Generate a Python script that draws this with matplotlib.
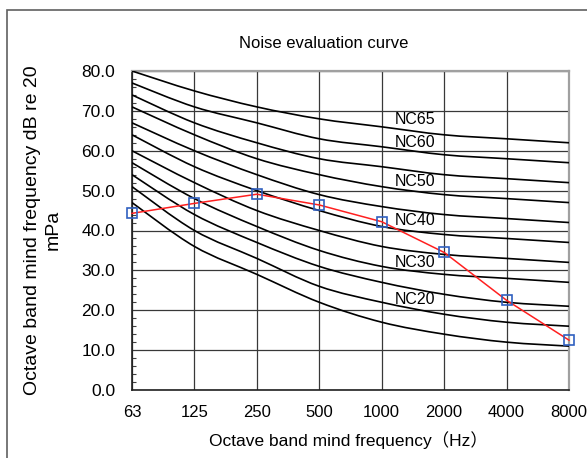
import numpy as np
import matplotlib
matplotlib.use("Agg")
import matplotlib.pyplot as plt
from matplotlib.path import Path
from matplotlib.patches import PathPatch, Rectangle

plt.rcParams['font.family'] = ['Liberation Sans', 'Noto Sans CJK SC', 'DejaVu Sans']

freqs = ["63", "125", "250", "500", "1000", "2000", "4000", "8000"]

nc15 = [47, 36, 29, 22, 17, 14, 12, 11]
nc20 = [51, 40, 33, 26, 22, 19, 17, 16]
nc25 = [54, 44, 37, 31, 27, 24, 22, 21]
nc30 = [57, 48, 41, 35, 31, 29, 28, 27]
nc35 = [60, 52, 45, 40, 36, 34, 33, 32]
nc40 = [64, 56, 50, 45, 41, 39, 38, 37]
nc45 = [67, 60, 54, 49, 46, 44, 43, 42]
nc50 = [71, 64, 58, 54, 51, 49, 48, 47]
nc55 = [74, 67, 62, 58, 56, 54, 53, 52]
nc60 = [77, 71, 67, 63, 61, 59, 58, 57]
nc65 = [80, 75, 71, 68, 66, 64, 63, 62]
nc_curves = [nc15, nc20, nc25, nc30, nc35, nc40, nc45, nc50, nc55, nc60, nc65]

measured = [44.3, 46.8, 49.1, 46.4, 42.2, 34.5, 22.5, 12.5]

nc_labels = ["NC65", "NC60", "NC50", "NC40", "NC30", "NC20"]
nc_label_y = [67.9, 62.1, 52.4, 42.4, 31.9, 22.7]

fig = plt.figure(figsize=(5.87, 4.58), dpi=100)
ax = fig.add_axes([132/587, 68/458, 437/587, 319/458])

# outer frame of the chart area
fig.patches.append(Rectangle((7/587, -0.1), 1.2, (448/458) + 0.1, transform=fig.transFigure,
                             fill=False, edgecolor='#606060', linewidth=1.2))

x = np.arange(len(freqs))


def smooth_path(xs, ys):
    xs = np.asarray(xs, float)
    ys = np.asarray(ys, float)
    n = len(xs)
    verts = [(xs[0], ys[0])]
    codes = [Path.MOVETO]
    for i in range(n - 1):
        p0 = np.array([xs[max(i - 1, 0)], ys[max(i - 1, 0)]])
        p1 = np.array([xs[i], ys[i]])
        p2 = np.array([xs[i + 1], ys[i + 1]])
        p3 = np.array([xs[min(i + 2, n - 1)], ys[min(i + 2, n - 1)]])
        c1 = p1 + (p2 - p0) / 6.0
        c2 = p2 - (p3 - p1) / 6.0
        verts += [tuple(c1), tuple(c2), tuple(p2)]
        codes += [Path.CURVE4, Path.CURVE4, Path.CURVE4]
    return Path(verts, codes)


for curve in nc_curves:
    ax.add_patch(PathPatch(smooth_path(x, curve), fill=False, edgecolor='black',
                           linewidth=1.2, zorder=3))

ax.plot(x, measured, color='#ff2020', linewidth=1.1, zorder=4,
        marker='s', markersize=6.5, markerfacecolor='none',
        markeredgecolor='#3060c0', markeredgewidth=1.2, clip_on=False)

for lab, ly in zip(nc_labels, nc_label_y):
    ax.text(4.53, ly, lab, ha='center', va='center', fontsize=11.5, zorder=5)

ax.set_xlim(0, 7)
ax.set_ylim(0, 80)
ax.set_xticks(x)
ax.set_xticklabels(freqs)
ax.set_yticks(np.arange(0, 81, 10))
ax.set_yticklabels([f"{v:.1f}" for v in np.arange(0, 81, 10)])
ax.set_yticks(np.arange(0, 81, 2), minor=True)
ax.tick_params(axis='y', which='minor', direction='in', length=3, width=0.8, color='#404040')
ax.tick_params(axis='y', which='major', length=0, pad=12, labelsize=12.5)
ax.tick_params(axis='x', which='major', length=0, pad=11, labelsize=12)
ax.grid(True, which='major', color='#383838', linewidth=0.9)
ax.set_axisbelow(True)

for s in ['left', 'bottom']:
    ax.spines[s].set_color('#202020')
    ax.spines[s].set_linewidth(1.2)
for s in ['top', 'right']:
    ax.spines[s].set_color('#a0a0a0')
    ax.spines[s].set_linewidth(1.6)

fig.text(324/587, 1 - 44/458, "Noise evaluation curve", fontsize=12,
         ha='center', va='center')
fig.text(348/587, 1 - 440/458, "Octave band mind frequency（Hz）", fontsize=12.5,
         ha='center', va='center')
fig.text(43/587, 1 - 230/458, "Octave band mind frequency dB re 20\nmPa", fontsize=14,
         ha='center', va='center', rotation=90, multialignment='center',
         linespacing=1.3)

fig.savefig("out.png", dpi=100)
